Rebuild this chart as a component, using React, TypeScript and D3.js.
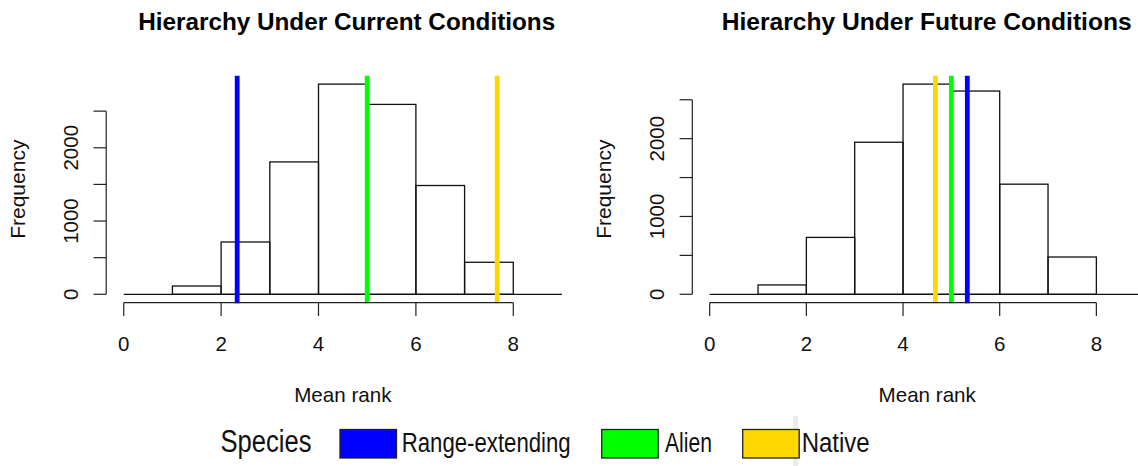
import React from "react";
import * as d3 from "d3";

// ---- data ----
const binStarts = [1, 2, 3, 4, 5, 6, 7];
const binWidth = 1;
const currentCounts = [113, 714, 1807, 2869, 2592, 1485, 437];
const futureCounts = [120, 731, 1954, 2701, 2612, 1415, 479];
const xTicks = [0, 2, 4, 6, 8];
const yTicks = [0, 500, 1000, 1500, 2000, 2500];
const yLabelTicks = [0, 1000, 2000];
const speciesNames = ["Range-extending", "Alien", "Native"];
const speciesColors = ["#0000FF", "#00FF00", "#FFD700"];
const currentMeans = [2.33, 5.0, 7.67];
const futureMeans = [5.33, 5.0, 4.67];
const titles = ["Hierarchy Under Current Conditions", "Hierarchy Under Future Conditions"];

const FONT = "'Liberation Sans', Arial, Helvetica, sans-serif";
const NARROW = "'Liberation Sans Narrow', 'Arial Narrow', 'Liberation Sans', Arial, sans-serif";

type PanelProps = {
  counts: number[];
  means: number[];
  title: string;
  left: number;
  right: number;
  titleX: number;
  titleW: number;
};

const TOP = 75.7;
const BOTTOM = 302.7;

function Panel({ counts, means, title, left, right, titleX, titleW }: PanelProps) {
  const xMin = 0, xMax = 9;
  const pad = (xMax - xMin) * 0.04;
  const x = d3.scaleLinear().domain([xMin - pad, xMax + pad]).range([left, right]);
  const yMax = d3.max(counts) as number;
  const y = d3.scaleLinear().domain([-yMax * 0.04, yMax * 1.04]).range([BOTTOM, TOP]);
  const cx = (left + right) / 2;
  const axisY = BOTTOM;
  const axisX = left;
  return (
    <g>
      <text x={titleX} y={30} textAnchor="middle" fontFamily={FONT} fontWeight="bold" fontSize={24}
        textLength={titleW} lengthAdjust="spacingAndGlyphs">{title}</text>
      {/* bars */}
      {counts.map((c, i) => (
        <rect key={i} x={x(binStarts[i])} y={y(c)} width={x(binStarts[i] + binWidth) - x(binStarts[i])}
          height={y(0) - y(c)} fill="none" stroke="#111" strokeWidth={1.3} />
      ))}
      {/* baseline */}
      <line x1={x(0)} x2={x(9)} y1={y(0)} y2={y(0)} stroke="#111" strokeWidth={1.3} />
      {/* mean lines */}
      {means.map((m, i) => (
        <line key={i} x1={x(m)} x2={x(m)} y1={TOP} y2={BOTTOM + 0.6} stroke={speciesColors[i]} strokeWidth={4.8} />
      ))}
      {/* x axis */}
      <line x1={x(xTicks[0])} x2={x(xTicks[xTicks.length - 1])} y1={axisY} y2={axisY} stroke="#222" strokeWidth={1.2} />
      {xTicks.map((t) => (
        <g key={t}>
          <line x1={x(t)} x2={x(t)} y1={axisY} y2={axisY + 13.3} stroke="#222" strokeWidth={1.2} />
          <text x={x(t)} y={350.7} textAnchor="middle" fontFamily={FONT} fontSize={20.5} fill="#111">{t}</text>
        </g>
      ))}
      {/* y axis */}
      <line x1={axisX} x2={axisX} y1={y(yTicks[0])} y2={y(yTicks[yTicks.length - 1])} stroke="#222" strokeWidth={1.2} />
      {yTicks.map((t) => (
        <line key={t} x1={axisX - 12.7} x2={axisX} y1={y(t)} y2={y(t)} stroke="#222" strokeWidth={1.2} />
      ))}
      {yLabelTicks.map((t) => (
        <text key={t} transform={`translate(${axisX - 28.2},${y(t)}) rotate(-90)`} textAnchor="middle"
          fontFamily={FONT} fontSize={20.5} fill="#111">{t}</text>
      ))}
      {/* axis titles */}
      <text x={cx} y={402} textAnchor="middle" fontFamily={FONT} fontSize={20.6} fill="#111">Mean rank</text>
      <text transform={`translate(${axisX - 81},${(TOP + BOTTOM) / 2}) rotate(-90)`} textAnchor="middle"
        fontFamily={FONT} fontSize={21} fill="#111">Frequency</text>
    </g>
  );
}

const legendBoxX = [340, 601.7, 742.7];
const legendTextX = [401.7, 665, 801.7];
const legendTextW = [169, 47, 68];

export default function App() {
  return (
    <svg width={1138} height={466} style={{ position: "absolute", left: 0, top: 0, background: "#fff" }}>
      <rect x={0} y={0} width={1138} height={466} fill="#fff" />
      <Panel counts={currentCounts} means={currentMeans} title={titles[0]} left={106.2} right={579.5} titleX={346.7} titleW={417} />
      <Panel counts={futureCounts} means={futureMeans} title={titles[1]} left={692.3} right={1162.1} titleX={926.7} titleW={410} />
      {/* legend */}
      <rect x={793} y={416} width={5} height={50} fill="#ececec" />
      <text x={220.5} y={452} fontFamily={NARROW} fontSize={31} fill="#111" textLength={91} lengthAdjust="spacingAndGlyphs">Species</text>
      {speciesNames.map((s, i) => (
        <g key={s}>
          <rect x={legendBoxX[i]} y={429.5} width={56.5} height={28.5} fill={speciesColors[i]} stroke="#222" strokeWidth={1.3} />
          <text x={legendTextX[i]} y={452} fontFamily={NARROW} fontSize={27} fill="#111"
            textLength={legendTextW[i]} lengthAdjust="spacingAndGlyphs">{s}</text>
        </g>
      ))}
    </svg>
  );
}
